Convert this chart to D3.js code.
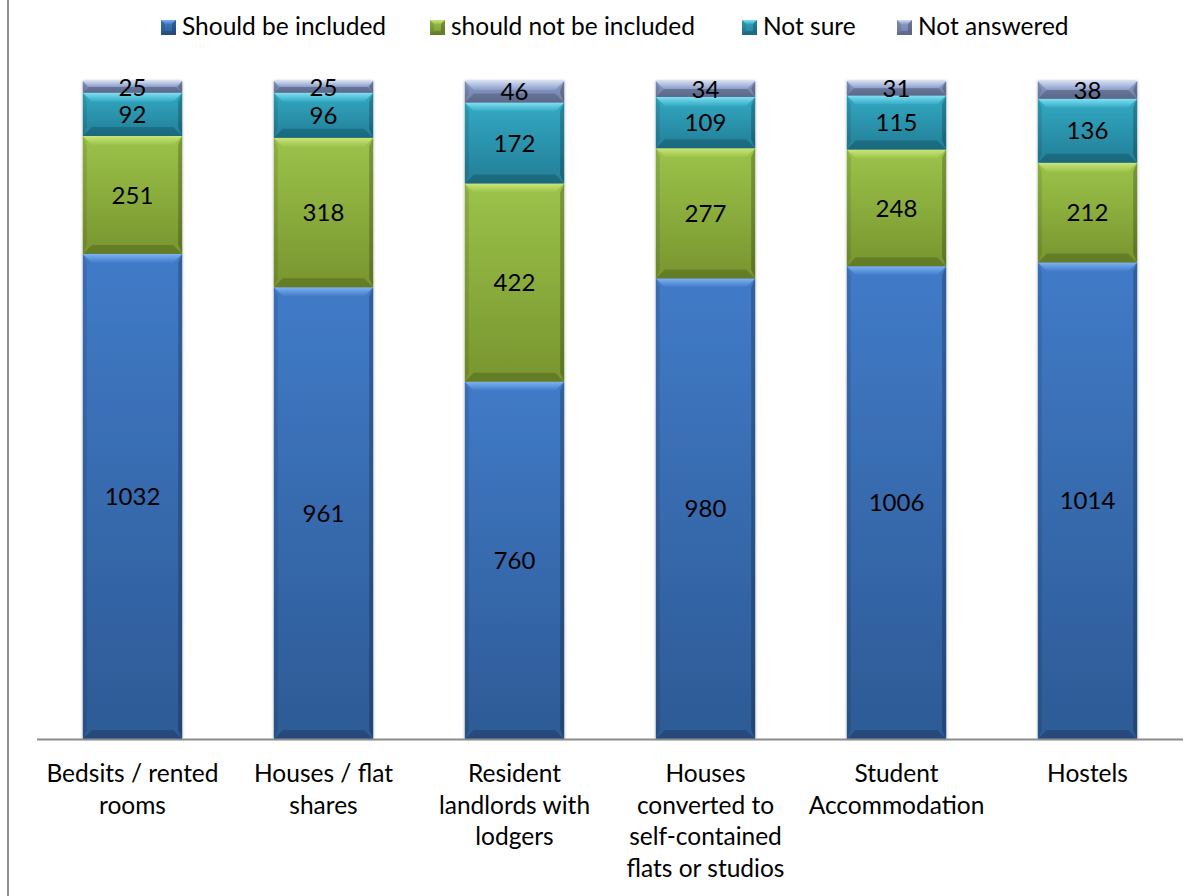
<!DOCTYPE html>
<html>
<head>
<meta charset="utf-8">
<script src="https://cdn.jsdelivr.net/npm/d3@7/dist/d3.min.js"></script>
<style>
  html, body { margin: 0; padding: 0; background: #fff; }
  svg { display: block; font-family: Lato, "Open Sans", sans-serif; }
</style>
</head>
<body>
<svg id="chart" width="1198" height="896"></svg>
<script>
// Survey responses per accommodation type
const categories = [
  ["Bedsits / rented", "rooms"],
  ["Houses / flat", "shares"],
  ["Resident", "landlords with", "lodgers"],
  ["Houses", "converted to", "self-contained", "flats or studios"],
  ["Student", "Accommodation"],
  ["Hostels"]
];
const seriesNames = ["Should be included", "should not be included", "Not sure", "Not answered"];
const shouldBeIncluded = [1032, 961, 760, 980, 1006, 1014];
const shouldNotBeIncluded = [251, 318, 422, 277, 248, 212];
const notSure = [92, 96, 172, 109, 115, 136];
const notAnswered = [25, 25, 46, 34, 31, 38];
const yMax = 1400;

const seriesValues = [shouldBeIncluded, shouldNotBeIncluded, notSure, notAnswered];
const palette = [
  { top: "#417bc8", bottom: "#2d5a95", hi: "#7db2f2" },
  { top: "#9cc34a", bottom: "#78952f", hi: "#c9e67a" },
  { top: "#33a9c3", bottom: "#237e97", hi: "#7fe0f3" },
  { top: "#8c9dc8", bottom: "#6e7ea6", hi: "#cfdcf6" }
];

const svg = d3.select("#chart");
const W = 1198, H = 896;
const plot = { left: 37, right: 1183, top: 81, bottom: 739 };

const defs = svg.append("defs");
palette.forEach((p, i) => {
  const g = defs.append("linearGradient").attr("id", "grad" + i)
    .attr("x1", 0).attr("y1", 0).attr("x2", 0).attr("y2", 1);
  g.append("stop").attr("offset", "0%").attr("stop-color", p.top);
  g.append("stop").attr("offset", "100%").attr("stop-color", p.bottom);
  const h = defs.append("linearGradient").attr("id", "hi" + i)
    .attr("x1", 0).attr("y1", 0).attr("x2", 0).attr("y2", 1);
  h.append("stop").attr("offset", "0%").attr("stop-color", p.hi);
  h.append("stop").attr("offset", "100%").attr("stop-color", p.top);
});
const shadow = defs.append("filter").attr("id", "shadow")
  .attr("x", "-10%").attr("y", "-5%").attr("width", "120%").attr("height", "110%");
shadow.append("feGaussianBlur").attr("in", "SourceAlpha").attr("stdDeviation", 1.5).attr("result", "b");
shadow.append("feComponentTransfer").attr("in", "b").attr("result", "s")
  .append("feFuncA").attr("type", "linear").attr("slope", 0.35);
const merge = shadow.append("feMerge");
merge.append("feMergeNode").attr("in", "s");
merge.append("feMergeNode").attr("in", "SourceGraphic");

// Chart frame edge
svg.append("line").attr("x1", 8).attr("x2", 8).attr("y1", 0).attr("y2", H)
  .attr("stroke", "#8c8c8c").attr("stroke-width", 2);

const x = d3.scaleBand().domain(d3.range(categories.length))
  .range([plot.left, plot.right]).paddingInner(0.48).paddingOuter(0.24);
const y = d3.scaleLinear().domain([0, yMax]).range([plot.bottom, plot.top]);

const rows = categories.map((c, i) => {
  const r = { idx: i };
  seriesNames.forEach((s, k) => r[s] = seriesValues[k][i]);
  return r;
});
const stacked = d3.stack().keys(seriesNames)(rows);

// Draws one bevelled block
function bevelBlock(g, x0, y0, w, h, k, bev) {
  const b = Math.min(bev, h / 2, w / 2);
  const s = Math.min(4, h / 2);
  g.append("rect").attr("x", x0).attr("y", y0).attr("width", w).attr("height", h)
    .attr("fill", `url(#grad${k})`);
  // top highlight
  g.append("polygon")
    .attr("points", [[x0, y0], [x0 + w, y0], [x0 + w - b, y0 + b], [x0 + b, y0 + b]].join(" "))
    .attr("fill", `url(#hi${k})`);
  // bottom shade
  g.append("polygon")
    .attr("points", [[x0, y0 + h], [x0 + w, y0 + h], [x0 + w - b, y0 + h - b], [x0 + b, y0 + h - b]].join(" "))
    .attr("fill", "#000").attr("fill-opacity", 0.17);
  // side shading
  g.append("polygon")
    .attr("points", [[x0, y0], [x0 + s, y0 + b], [x0 + s, y0 + h - b], [x0, y0 + h]].join(" "))
    .attr("fill", "#000").attr("fill-opacity", 0.1);
  g.append("polygon")
    .attr("points", [[x0 + w, y0], [x0 + w - s, y0 + b], [x0 + w - s, y0 + h - b], [x0 + w, y0 + h]].join(" "))
    .attr("fill", "#000").attr("fill-opacity", 0.22);
}

const barsG = svg.append("g").attr("filter", "url(#shadow)");
stacked.forEach((layer, k) => {
  layer.forEach((d, i) => {
    const g = barsG.append("g");
    const y0 = y(d[1]), y1 = y(d[0]);
    bevelBlock(g, x(i), y0, x.bandwidth(), y1 - y0, k, 9);
  });
});

// Value labels
const labelG = svg.append("g").attr("font-size", 24).attr("fill", "#000")
  .attr("text-anchor", "middle");
stacked.forEach((layer) => {
  layer.forEach((d, i) => {
    labelG.append("text")
      .attr("x", x(i) + x.bandwidth() / 2)
      .attr("y", (y(d[0]) + y(d[1])) / 2)
      .attr("dy", "0.36em")
      .text(d[1] - d[0]);
  });
});

// Category axis line
svg.append("line").attr("x1", plot.left).attr("x2", plot.right)
  .attr("y1", plot.bottom + 0.5).attr("y2", plot.bottom + 0.5)
  .attr("stroke", "#8c8c8c").attr("stroke-width", 2);

const catG = svg.append("g").attr("font-size", 24.5).attr("text-anchor", "middle").attr("fill", "#000");
categories.forEach((lines, i) => {
  const t = catG.append("text").attr("x", x(i) + x.bandwidth() / 2).attr("y", 782);
  lines.forEach((ln, j) => t.append("tspan")
    .attr("x", x(i) + x.bandwidth() / 2).attr("dy", j === 0 ? 0 : 31.7).text(ln));
});

// Legend
const legendX = [161, 430, 742, 897];
const legendG = svg.append("g").attr("font-size", 24.5);
seriesNames.forEach((name, k) => {
  const g = legendG.append("g").attr("transform", `translate(${legendX[k]},20)`);
  bevelBlock(g, 0, 0, 15, 15, k, 4);
  g.append("text").attr("x", 21).attr("y", 15).attr("fill", "#000").text(name);
});
</script>
</body>
</html>
